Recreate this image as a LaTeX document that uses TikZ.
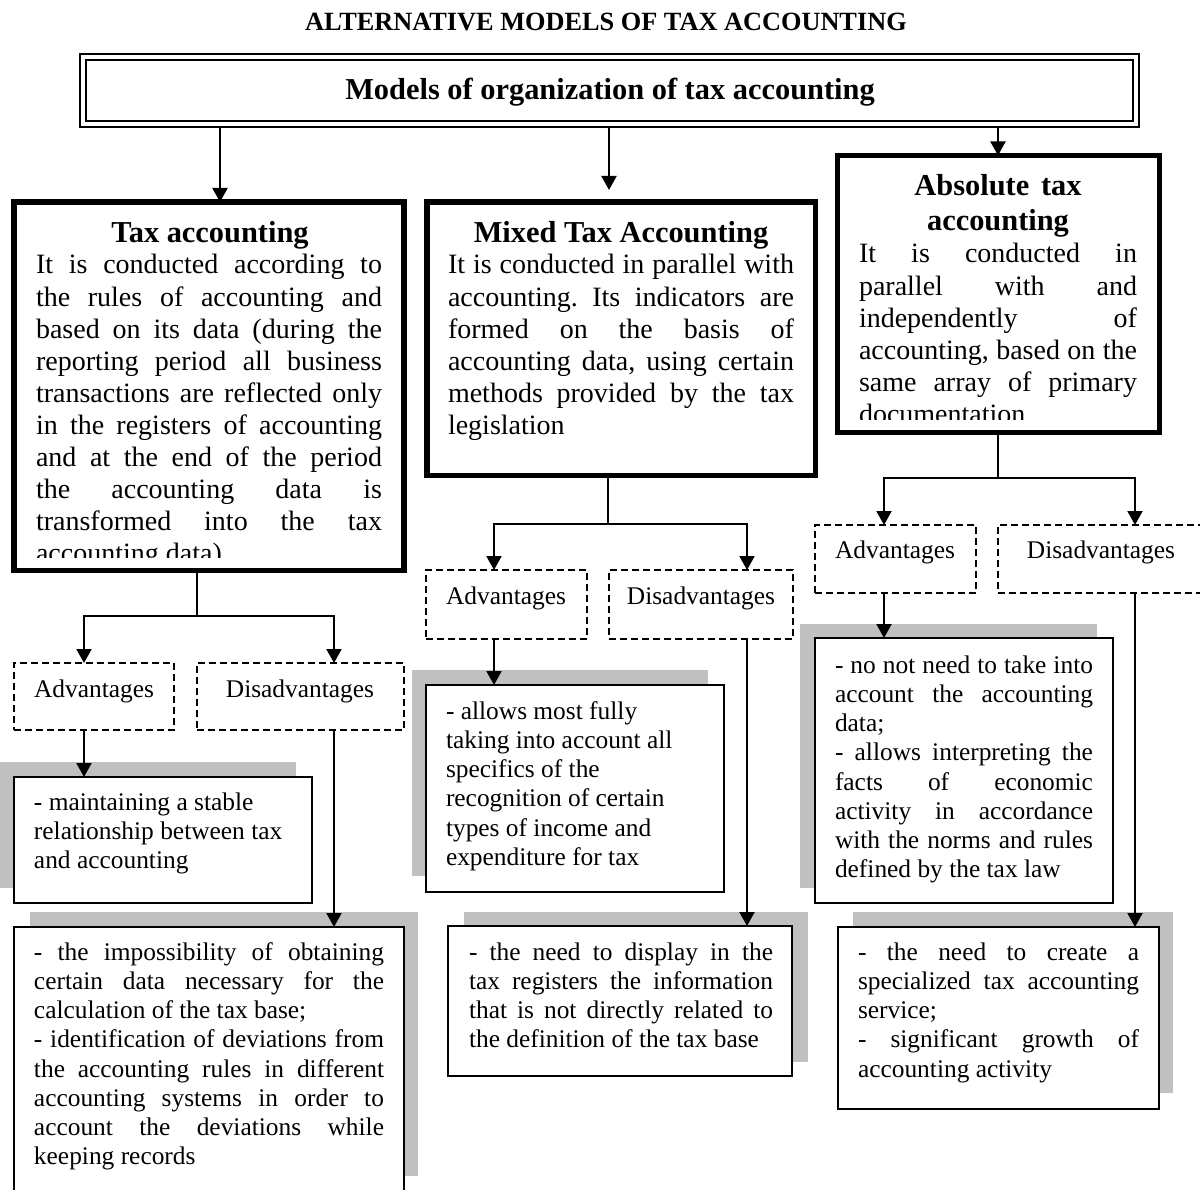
\documentclass[tikz,border=0pt]{standalone}
\usepackage{fontspec}
\setmainfont{Liberation Serif}
\usetikzlibrary{arrows.meta}
\pgfdeclarelayer{background}
\pgfsetlayers{background,main}
\definecolor{shadowgray}{RGB}{192,192,192}
\frenchspacing
\newcommand{\JL}[1]{\makebox[\linewidth][s]{#1}}
\newcommand{\NS}{\spaceskip=0pt\xspaceskip=0pt\relax}
\begin{document}
\begin{tikzpicture}[x=1pt,y=-1pt,
 every node/.style={inner sep=0pt, outer sep=0pt},
 thickbox/.style={draw, line width=5.5pt, fill=white, anchor=north west},
 topbox/.style={draw, line width=2pt, double, double distance=4pt, fill=white, anchor=north west},
 dashbox/.style={draw, line width=1.8pt, dash pattern=on 7pt off 4pt, anchor=north west},
 resbox/.style={draw, line width=2pt, fill=white, anchor=north west},
 shade/.style={fill=shadowgray},
 conn/.style={line width=2pt},
 arr/.style={conn, -{Triangle[width=15pt,length=14pt]}},
 maintitle/.style={font=\bfseries\fontsize{26.3}{30}\selectfont, anchor=base},
 ttl/.style={font=\bfseries\fontsize{30.4}{35}\selectfont, anchor=base, align=center},
 body/.style={font=\fontsize{28}{32.1}\selectfont, anchor=base west, align=left},
 small/.style={font=\fontsize{25.4}{29.25}\selectfont, anchor=base west, align=left},
 hdr/.style={font=\fontsize{25.4}{29.25}\selectfont, anchor=base},
]
\useasboundingbox (0,0) rectangle (1200,1190);

% title
\node[maintitle] (title) at (606,31) {ALTERNATIVE MODELS OF TAX ACCOUNTING};

% top box
\node[topbox, minimum width=1052.5pt, minimum height=67.5pt] (top) at (83,57) {};
\node[ttl] (toptxt) at (610,100) {\NS Models of organization of tax accounting};

% main boxes
\node[thickbox, minimum width=390pt, minimum height=368.5pt] (b1) at (14,202) {};
\node[thickbox, minimum width=388.5pt, minimum height=273.5pt] (b2) at (427,202) {};
\node[thickbox, minimum width=322pt, minimum height=277pt] (b3) at (837.5,155.5) {};

\begin{scope}
\clip (17,205) rectangle (401,557);
\node[ttl] (b1t) at (210,243) {\NS Tax accounting};
\node[body, text width=346pt] (b1b) at (36,274) {\NS
\JL{It is conducted according to}\\
\JL{the rules of accounting and}\\
\JL{based on its data (during the}\\
\JL{reporting period all business}\\
\JL{transactions are reflected only}\\
\JL{in the registers of accounting}\\
\JL{and at the end of the period}\\
\JL{the accounting data is}\\
\JL{transformed into the tax}\\
accounting data)};
\end{scope}

\node[ttl] (b2t) at (621,243) {\NS Mixed Tax Accounting};
\node[body, text width=346pt] (b2b) at (448,274) {\NS
\JL{It is conducted in parallel with}\\
\JL{accounting. Its indicators are}\\
\JL{formed on the basis of}\\
\JL{accounting data, using certain}\\
\JL{methods provided by the tax}\\
legislation};

\begin{scope}
\clip (840,158) rectangle (1157,419);
\node[ttl, text width=300pt] (b3t) at (998,196) {\NS Absolute tax\\accounting};
\node[body, text width=278pt] (b3b) at (859,263) {\NS
\JL{It is conducted in}\\
\JL{parallel with and}\\
\JL{independently of}\\
\JL{accounting, based on the}\\
\JL{same array of primary}\\
documentation};
\end{scope}

% dashed boxes
\node[dashbox, minimum width=160pt, minimum height=67pt] (a1) at (14,663) {};
\node[dashbox, minimum width=207pt, minimum height=67pt] (d1) at (197,663) {};
\node[dashbox, minimum width=161pt, minimum height=69pt] (a2) at (426,570) {};
\node[dashbox, minimum width=184pt, minimum height=69pt] (d2) at (609,570) {};
\node[dashbox, minimum width=161pt, minimum height=68pt] (a3) at (815,525) {};
\node[dashbox, minimum width=207pt, minimum height=68pt] (d3) at (998,525) {};

\node[hdr] (ha1) at (94,697) {Advantages};
\node[hdr] (hd1) at (300,697) {Disadvantages};
\node[hdr] (ha2) at (506,604) {Advantages};
\node[hdr] (hd2) at (701,604) {Disadvantages};
\node[hdr] (ha3) at (895,558) {Advantages};
\node[hdr] (hd3) at (1101,558) {Disadvantages};

% result boxes
\node[resbox, minimum width=298pt, minimum height=126pt] (ra1) at (14,777) {};
\node[resbox, minimum width=390pt, minimum height=300pt] (rd1) at (14,927) {};
\node[resbox, minimum width=298pt, minimum height=207pt] (ra2) at (426,685) {};
\node[resbox, minimum width=344pt, minimum height=150pt] (rd2) at (448,926) {};
\node[resbox, minimum width=298pt, minimum height=265pt] (ra3) at (815,638) {};
\node[resbox, minimum width=321pt, minimum height=182pt] (rd3) at (838,927) {};

\node[small, text width=280pt] (ra1t) at (34,810) {\NS
- maintaining a stable\\
relationship between tax\\
and accounting};
\node[small, text width=280pt] (ra2t) at (446,719) {\NS
- allows most fully\\
taking into account all\\
specifics of the\\
recognition of certain\\
types of income and\\
expenditure for tax};
\node[small, text width=258pt] (ra3t) at (835,673) {\NS
\JL{- no not need to take into}\\
\JL{account the accounting}\\
data;\\
\JL{- allows interpreting the}\\
\JL{facts of economic}\\
\JL{activity in accordance}\\
\JL{with the norms and rules}\\
defined by the tax law};
\node[small, text width=350pt] (rd1t) at (34,960) {\NS
\JL{- the impossibility of obtaining}\\
\JL{certain data necessary for the}\\
calculation of the tax base;\\
\JL{- identification of deviations from}\\
\JL{the accounting rules in different}\\
\JL{accounting systems in order to}\\
\JL{account the deviations while}\\
keeping records};
\node[small, text width=304pt] (rd2t) at (469,960) {\NS
\JL{- the need to display in the}\\
\JL{tax registers the information}\\
\JL{that is not directly related to}\\
the definition of the tax base};
\node[small, text width=281pt] (rd3t) at (858,960) {\NS
\JL{- the need to create a}\\
\JL{specialized tax accounting}\\
service;\\
\JL{- significant growth of}\\
accounting activity};

% x positions of connectors
\coordinate (t1) at (220,0);
\coordinate (t2) at (609,0);
\coordinate (t3) at (998,0);
\coordinate (f1) at (197,616);
\coordinate (f2) at (608,524);
\coordinate (f3) at (998,478);
\coordinate (x1a) at (84,0);
\coordinate (x1d) at (334,0);
\coordinate (x2a) at (494,0);
\coordinate (x2d) at (747,0);
\coordinate (x3a) at (884,0);
\coordinate (x3d) at (1135,0);

\begin{pgfonlayer}{background}
% shadows
\fill[shade] (-5,762) rectangle (296,888);
\fill[shade] (30,912) rectangle (418,1176);
\fill[shade] (412,670) rectangle (708,876);
\fill[shade] (464,912) rectangle (808,1062);
\fill[shade] (800,624) rectangle (1097,888);
\fill[shade] (853,912) rectangle (1173,1093);

% connectors from top box
\draw[arr] (top.south -| t1) -- (b1.north -| t1);
\draw[arr, shorten >=12pt] (top.south -| t2) -- (b2.north -| t2);
\draw[arr] (top.south -| t3) -- (b3.north -| t3);

% forks
\draw[conn] (b1.south -| f1) -- (f1);
\draw[arr] (f1) -| (a1.north -| x1a);
\draw[arr] (f1) -| (d1.north -| x1d);
\draw[conn] (b2.south -| f2) -- (f2);
\draw[arr] (f2) -| (a2.north -| x2a);
\draw[arr] (f2) -| (d2.north -| x2d);
\draw[conn] (b3.south -| f3) -- (f3);
\draw[arr] (f3) -| (a3.north -| x3a);
\draw[arr] (f3) -| (d3.north -| x3d);

% to result boxes
\draw[arr] (a1.south -| x1a) -- (ra1.north -| x1a);
\draw[arr] (d1.south -| x1d) -- (rd1.north -| x1d);
\draw[arr] (a2.south -| x2a) -- (ra2.north -| x2a);
\draw[arr] (d2.south -| x2d) -- (rd2.north -| x2d);
\draw[arr] (a3.south -| x3a) -- (ra3.north -| x3a);
\draw[arr] (d3.south -| x3d) -- (rd3.north -| x3d);
\end{pgfonlayer}
\end{tikzpicture}
\end{document}
